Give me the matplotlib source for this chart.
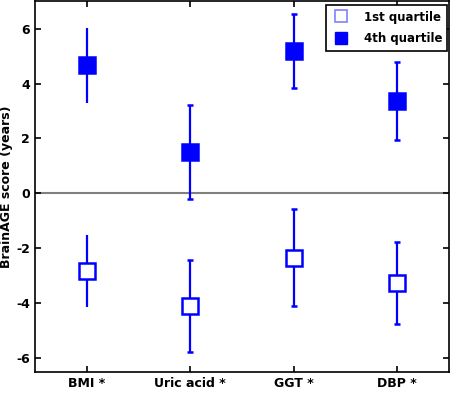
import numpy as np
import matplotlib.pyplot as plt

categories = ['BMI *', 'Uric acid *', 'GGT *', 'DBP *']
q1_mean = [-2.82, -4.10, -2.34, -3.27]
q1_low = [-4.15, -5.78, -4.10, -4.76]
q1_high = [-1.52, -2.42, -0.58, -1.76]
q4_mean = [4.67, 1.52, 5.17, 3.36]
q4_low = [3.30, -0.20, 3.82, 1.95]
q4_high = [6.02, 3.20, 6.55, 4.79]

blue = '#0000ff'

fig = plt.figure(figsize=(4.54, 3.93), dpi=100)
ax = fig.add_axes([0.077, 0.054, 0.912, 0.943])

ax.axhline(0, color='#808080', linewidth=1.5, zorder=1)

x = np.arange(1, len(categories) + 1)
for i in range(len(categories)):
    cap = 0 if i == 0 else 2.5
    ax.errorbar(x[i], q1_mean[i],
                yerr=[[q1_mean[i] - q1_low[i]], [q1_high[i] - q1_mean[i]]],
                fmt='s', color=blue, ecolor=blue, mfc='white', mec=blue,
                ms=11.5, mew=1.8, elinewidth=1.6, capsize=cap, capthick=1.6, zorder=3)
    ax.errorbar(x[i], q4_mean[i],
                yerr=[[q4_mean[i] - q4_low[i]], [q4_high[i] - q4_mean[i]]],
                fmt='s', color=blue, ecolor=blue, mfc=blue, mec=blue,
                ms=12, mew=1.8, elinewidth=1.6, capsize=cap, capthick=1.6, zorder=3)

# legend handles
h1, = ax.plot([], [], 's', mfc='white', mec='#8080ff', ms=9, mew=1.2)
h4, = ax.plot([], [], 's', mfc=blue, mec=blue, ms=9)
leg = ax.legend([h1, h4], ['1st quartile', '4th quartile'], loc='upper right',
                prop={'weight': 'bold', 'size': 8.5}, fancybox=False,
                edgecolor='black', framealpha=1, handletextpad=1.2,
                borderpad=0.45, labelspacing=0.75, handlelength=1.5,
                borderaxespad=0, bbox_to_anchor=(0.996, 0.989))
leg.get_frame().set_linewidth(1.2)

ax.set_xlim(0.5, 4.5)
ax.set_ylim(-6.5, 7)
ax.set_xticks(x)
ax.set_xticklabels(categories, fontweight='bold', fontsize=9)
ax.set_yticks([-6, -4, -2, 0, 2, 4, 6])
ax.set_yticklabels(['-6', '-4', '-2', '0', '2', '4', '6'], fontweight='bold', fontsize=9)
ax.tick_params(direction='in', top=True, right=True, length=4, width=1.2)
for s in ax.spines.values():
    s.set_linewidth(1.2)
ax.set_ylabel('BrainAGE score (years)', fontweight='bold', fontsize=9, labelpad=2)

fig.savefig('out.png', dpi=100)
